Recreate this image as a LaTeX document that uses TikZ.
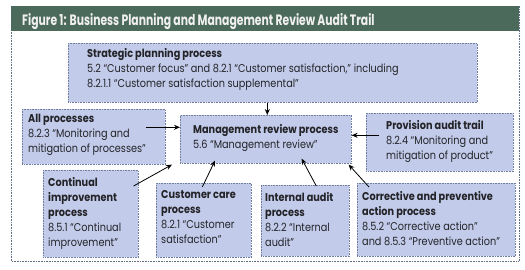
\documentclass[tikz,border=0pt]{standalone}
\usepackage{fontspec}
\setmainfont{Poppins}[FakeStretch=0.86]
\newfontfamily\titlefont{Poppins}[FakeStretch=0.72]
\usetikzlibrary{arrows.meta}
\definecolor{boxfill}{RGB}{194,204,234}
\definecolor{boxline}{RGB}{110,124,160}
\definecolor{titlegreen}{RGB}{75,106,91}
\definecolor{frameline}{RGB}{100,110,130}
\definecolor{txt}{RGB}{35,35,40}
\tikzset{
  x=1pt, y=-1pt,
  boxnode/.style={draw=boxline, densely dotted, line width=0.6pt, fill=boxfill, inner sep=0pt, anchor=north west},
  label/.style={anchor=north west, inner sep=0pt, align=left, text=txt, font=\fontsize{11.3}{15}\selectfont},
  arr/.style={draw=black, line width=0.8pt, -{Stealth[length=6pt,width=5pt]}}
}
\begin{document}
\begin{tikzpicture}
\useasboundingbox (0,0) rectangle (525,270);
% frame and title
\draw[frameline, densely dotted, line width=0.6pt] (11,6) rectangle (519,261);
\node[fill=titlegreen, minimum width=508pt, minimum height=25pt, inner sep=0pt, anchor=north west] (bar) at (11,6) {};
\node[anchor=base west, inner sep=0pt, text=white!94!black, font=\titlefont\bfseries\fontsize{15}{18}\selectfont] (title) at (22,26) {Figure 1: Business Planning and Management Review Audit Trail};
% boxes
\node[boxnode, minimum width=409pt, minimum height=59pt] (strat) at (68,43) {};
\node[boxnode, minimum width=143pt, minimum height=55pt] (allp) at (22,109) {};
\node[boxnode, minimum width=171pt, minimum height=48pt] (mgmt) at (180,115) {};
\node[boxnode, minimum width=147pt, minimum height=58pt] (prov) at (366,113) {};
\node[boxnode, minimum width=95pt, minimum height=87pt] (cont) at (43,170) {};
\node[boxnode, minimum width=95pt, minimum height=74pt] (care) at (156,183) {};
\node[boxnode, minimum width=88pt, minimum height=71pt] (inta) at (261,185) {};
\node[boxnode, minimum width=158pt, minimum height=73pt] (corr) at (357,183) {};
% texts
\node[label] (tstrat) at (87,48) {\textbf{Strategic planning process}\\5.2 “Customer focus” and 8.2.1 “Customer satisfaction,” including\\8.2.1.1 “Customer satisfaction supplemental”};
\node[label] (tallp) at (28,114) {\textbf{All processes}\\8.2.3 “Monitoring and\\mitigation of processes”};
\node[label] (tmgmt) at (193,124) {\textbf{Management review process}\\5.6 “Management review”};
\node[label] (tprov) at (386,120) {\textbf{Provision audit trail}\\8.2.4 “Monitoring and\\mitigation of product”};
\node[label] (tcont) at (48,177) {\textbf{Continual}\\\textbf{improvement}\\\textbf{process}\\8.5.1 “Continual\\improvement”};
\node[label] (tcare) at (161,190) {\textbf{Customer care}\\\textbf{process}\\8.2.1 “Customer\\satisfaction”};
\node[label] (tinta) at (265,192) {\textbf{Internal audit}\\\textbf{process}\\8.2.2 “Internal\\audit”};
\node[label] (tcorr) at (362,191) {\textbf{Corrective and preventive}\\\textbf{action process}\\8.5.2 “Corrective action”\\and 8.5.3 “Preventive action”};
% connectors
\draw[arr] ([xshift=-5.5pt]strat.south) -- ([xshift=1.5pt]mgmt.north);
\draw[arr] ([xshift=-20pt,yshift=9.5pt]allp.east) coordinate (s2) -- (s2 -| mgmt.west);
\draw[arr] ([xshift=13pt,yshift=7pt]prov.west) coordinate (s3) -- (s3 -| mgmt.east);
\draw[arr] ([xshift=-5pt,yshift=-16pt]cont.north east) -- ([xshift=-8pt,yshift=-1pt]mgmt.south west);
\draw[arr] ([xshift=-1.5pt,yshift=-4pt]care.north) -- ([xshift=35pt,yshift=3pt]mgmt.south west);
\draw[arr] ([xshift=11pt,yshift=-1pt]inta.north) -- ([xshift=-50pt,yshift=5pt]mgmt.south east);
\draw[arr] ([xshift=12pt,yshift=-4pt]corr.north west) -- ([xshift=-3pt,yshift=-1pt]mgmt.south east);
\end{tikzpicture}
\end{document}
